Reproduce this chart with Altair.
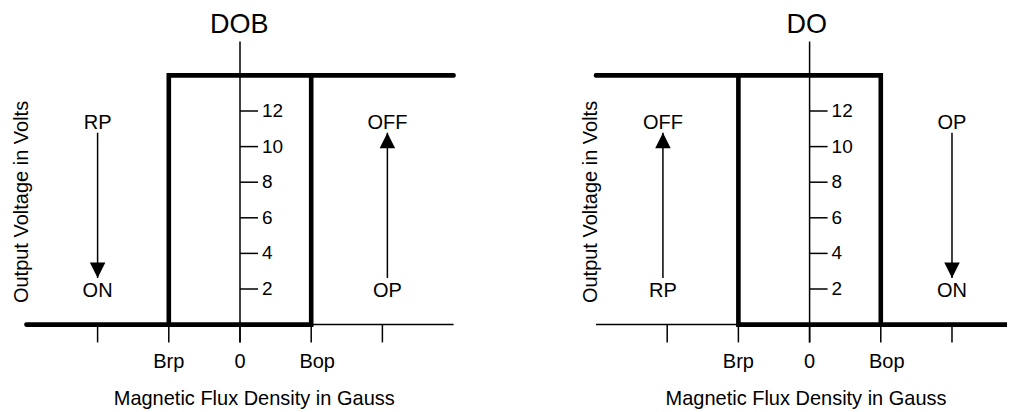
import altair as alt
import pandas as pd

# ---------------- values ----------------
panel_names = ["DOB", "DO"]
panel_center = [0, 8]            # field-axis position of each panel's zero
b_rp = -1                        # Brp
b_op = 1                         # Bop
v_low = 0                        # output low (volts)
v_high = 14                      # output high (volts)
field_min, field_max = -3, 3     # extent of the drawn field axis
volt_axis_min, volt_axis_max = -1, 15.9

x_tick_values = [-2, -1, 0, 1, 2]
x_tick_labels = ["", "Brp", "0", "Bop", ""]
y_tick_values = [2, 4, 6, 8, 10, 12]
y_tick_labels = ["2", "4", "6", "8", "10", "12"]

# arrows (one per side of each panel)
arrow_panel = ["DOB", "DOB", "DO", "DO"]
arrow_x = [-2, 2.07, -2.06, 2]
arrow_dir = ["down", "up", "up", "down"]
arrow_top_text = ["RP", "OFF", "OFF", "OP"]
arrow_bottom_text = ["ON", "OP", "RP", "ON"]
arrow_lo, arrow_hi = 2.62, 10.78
text_top_v, text_bottom_v = 11.31, 1.89

x_title = "Magnetic Flux Density in Gauss"
y_title = "Output Voltage in Volts"
x_title_pos = [0.2, -0.05]
title_pos = [-0.01, -0.04]

# ---------------- layout constants ----------------
PX_X = 71.2                      # pixels per field unit
X_MIN, X_MAX = -3, 10.77
W = (X_MAX - X_MIN) * PX_X
H = 302.6
FONT = "Liberation Sans"
THIN, THICK = 1.5, 4.6
px_x = PX_X
px_y = H / 17.0
head_px = 15.5
label_nudge = {"Bop": 6}         # small horizontal nudge of a tick label, px

xs = alt.Scale(domain=[X_MIN, X_MAX], nice=False, zero=False)
ys = alt.Scale(domain=[-1, 16], nice=False, zero=False)


def X(f="x"):
    return alt.X(f"{f}:Q", scale=xs, axis=None)


def Y(f="v"):
    return alt.Y(f"{f}:Q", scale=ys, axis=None)


# ---------------- build tables ----------------
loop_paths = {
    "DOB": [([field_min, b_op, b_op], [v_low, v_low, v_high]),
            ([field_max, b_rp, b_rp], [v_high, v_high, v_low])],
    "DO": [([field_min, b_op, b_op], [v_high, v_high, v_low]),
           ([field_max, b_rp, b_rp], [v_low, v_low, v_high])],
}

loop_rows, hrule, vrule, xt, yt, titles, xtitles, ytitles = [], [], [], [], [], [], [], []
for i, name in enumerate(panel_names):
    c = panel_center[i]
    for p, (pxs, pvs) in enumerate(loop_paths[name]):
        for k, (a, b) in enumerate(zip(pxs, pvs)):
            loop_rows.append(dict(path=f"{name}{p}", order=k, x=c + a, v=b))
    hrule.append(dict(x=c + field_min, x2=c + field_max, v=0))
    vrule.append(dict(x=c, v=volt_axis_min, v2=volt_axis_max))
    for tv, tl in zip(x_tick_values, x_tick_labels):
        xt.append(dict(x=c + tv, xl=c + tv + label_nudge.get(tl, 0) / px_x,
                       v=-1, v2=0, label=tl))
    for tv, tl in zip(y_tick_values, y_tick_labels):
        yt.append(dict(x=c, x2=c + 18 / px_x, xl=c + 22 / px_x, v=tv, label=tl))
    titles.append(dict(x=c + title_pos[i], v=16 + 14.8 / px_y, label=name))
    xtitles.append(dict(x=c + x_title_pos[i], v=-1 - 57 / px_y, label=x_title))
    ytitles.append(dict(x=c + field_min - 4.5 / px_x, v=6.89, label=y_title))

loop_df = pd.DataFrame(loop_rows)
hrule_df = pd.DataFrame(hrule)
vrule_df = pd.DataFrame(vrule)
xt_df = pd.DataFrame(xt)
yt_df = pd.DataFrame(yt)

arrows = []
labels = []
head_u = head_px / px_y
for pn, ax, d, tt, bt in zip(arrow_panel, arrow_x, arrow_dir, arrow_top_text, arrow_bottom_text):
    c = panel_center[panel_names.index(pn)]
    hv = arrow_lo + head_u / 2 if d == "down" else arrow_hi - head_u / 2
    arrows.append(dict(x=c + ax, lo=arrow_lo, hi=arrow_hi, hv=hv, dir=d))
    labels.append(dict(x=c + ax, v=text_top_v, label=tt))
    labels.append(dict(x=c + ax, v=text_bottom_v, label=bt))
arrow_df = pd.DataFrame(arrows)
label_df = pd.DataFrame(labels)

# ---------------- layers ----------------
axis_h = alt.Chart(hrule_df).mark_rule(color="black", strokeWidth=THIN).encode(
    x=X("x"), x2="x2:Q", y=Y("v"))
axis_v = alt.Chart(vrule_df).mark_rule(color="black", strokeWidth=THIN).encode(
    x=X("x"), y=Y("v"), y2="v2:Q")
xticks = alt.Chart(xt_df).mark_rule(color="black", strokeWidth=THIN).encode(
    x=X("x"), y=Y("v"), y2="v2:Q")
xlabels = alt.Chart(xt_df).mark_text(font=FONT, fontSize=20, color="black",
                                     baseline="middle", align="center", dy=20).encode(
    x=X("xl"), y=Y("v"), text="label:N")
yticks = alt.Chart(yt_df).mark_rule(color="black", strokeWidth=THIN).encode(
    x=X("x"), x2="x2:Q", y=Y("v"))
ylabels = alt.Chart(yt_df).mark_text(font=FONT, fontSize=19, color="black",
                                     baseline="middle", align="left").encode(
    x=X("xl"), y=Y("v"), text="label:N")

loop = alt.Chart(loop_df).mark_line(color="black", strokeWidth=THICK,
                                    strokeCap="round", strokeJoin="miter").encode(
    x=X("x"), y=Y("v"), detail="path:N", order="order:Q")

shafts = alt.Chart(arrow_df).mark_rule(color="black", strokeWidth=THIN).encode(
    x=X("x"), y=Y("lo"), y2="hi:Q")
heads = alt.Chart(arrow_df).mark_point(filled=True, color="black", opacity=1,
                                       size=head_px ** 2, strokeWidth=0).encode(
    x=X("x"), y=Y("hv"),
    shape=alt.Shape("dir:N", legend=None,
                    scale=alt.Scale(domain=["up", "down"],
                                    range=["M-1,1L0,-1L1,1Z", "M-1,-1L0,1L1,-1Z"])))
ann = alt.Chart(label_df).mark_text(font=FONT, fontSize=20, color="black",
                                    baseline="middle", align="center").encode(
    x=X("x"), y=Y("v"), text="label:N")

title_t = alt.Chart(pd.DataFrame(titles)).mark_text(
    font=FONT, fontSize=27, color="black", baseline="middle", align="center").encode(
    x=X("x"), y=Y("v"), text="label:N")
xtitle_t = alt.Chart(pd.DataFrame(xtitles)).mark_text(
    font=FONT, fontSize=20, color="black", baseline="middle", align="center").encode(
    x=X("x"), y=Y("v"), text="label:N")
ytitle_t = alt.Chart(pd.DataFrame(ytitles)).mark_text(
    font=FONT, fontSize=20, color="black", baseline="middle", align="center",
    angle=270).encode(
    x=X("x"), y=Y("v"), text="label:N")

chart = alt.layer(
    axis_h, axis_v, xticks, xlabels, yticks, ylabels, loop, shafts, heads, ann,
    title_t, xtitle_t, ytitle_t,
).properties(
    width=W, height=H,
    autosize=alt.AutoSizeParams(type="none"),
    padding={"left": 18.4, "top": 31.8, "right": 0, "bottom": 69.6},
    background="white",
).configure_view(stroke=None)

chart.save("out.html", embed_options={"renderer": "svg", "actions": False})
